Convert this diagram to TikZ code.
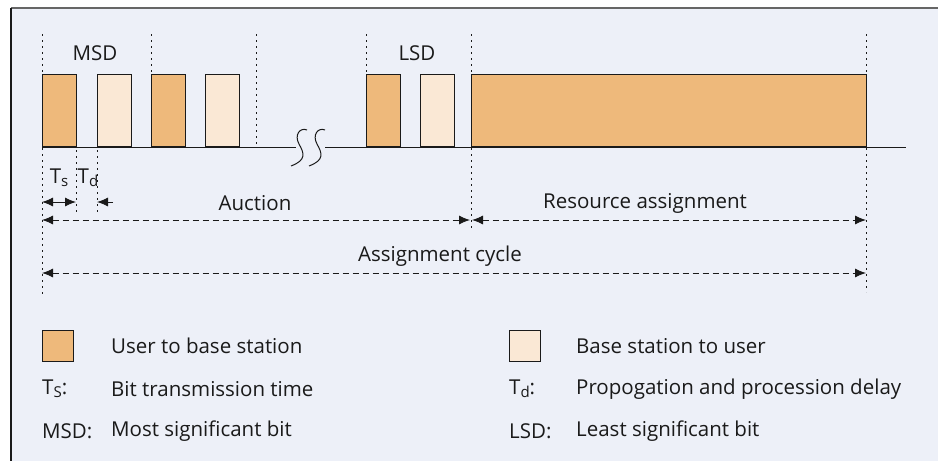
\documentclass[tikz,border=0pt]{standalone}
\usepackage{fontspec}
\setmainfont{Open Sans}
\usetikzlibrary{arrows.meta}
\definecolor{bg}{HTML}{EDF0F8}
\definecolor{dk}{HTML}{EEB97B}
\definecolor{lt}{HTML}{FAE8D5}
\definecolor{ink}{HTML}{1A1A1A}
\newcommand{\sbs}[1]{\raisebox{-0.3ex}{\fontsize{15}{17}\selectfont #1}}
\tikzset{
  ubox/.style={draw=ink, line width=0.9pt, fill=dk, minimum width=34pt, minimum height=72pt, anchor=south west, inner sep=0pt},
  dbox/.style={ubox, fill=lt},
  leg/.style={draw=ink, line width=0.9pt, minimum width=31pt, minimum height=31pt, inner sep=0pt, anchor=north west},
  dotv/.style={draw=ink, line width=1pt, dash pattern=on 2pt off 4pt},
  dimarr/.style={draw=ink, line width=0.9pt, dash pattern=on 6pt off 4pt, {Latex[length=11pt,width=9pt]}-{Latex[length=11pt,width=9pt]}},
  solarr/.style={draw=ink, line width=0.9pt, {Latex[length=11pt,width=9pt]}-{Latex[length=11pt,width=9pt]}},
  txt/.style={text=ink, font=\fontsize{20.5}{24}\selectfont, inner sep=0pt},
  ltxt/.style={txt, anchor=west}
}
\begin{document}
\begin{tikzpicture}[x=1pt,y=-1pt]
\useasboundingbox (0,0) rectangle (938,461);
\fill[white] (0,0) rectangle (938,461);
\fill[bg] (11,8) rectangle (938,461);
\draw[gray!80!black, line width=1.2pt] (11,8) -- (938,8);
\draw[ink, line width=1.2pt] (11,8) -- (11,461);

% boxes
\node[ubox] (b1) at (42,147) {};
\node[dbox] (b2) at (97,147) {};
\node[ubox] (b3) at (151,147) {};
\node[dbox] (b4) at (205,147) {};
\node[ubox] (b5) at (366,147) {};
\node[dbox] (b6) at (420,147) {};
\node[ubox, minimum width=395pt] (b7) at (471,147) {};

% baseline with break
\coordinate (l0) at (42,147);
\coordinate (l1) at (296,147);
\coordinate (l2) at (325,147);
\coordinate (l3) at (906,147);
\draw[ink, line width=0.9pt] (l0) -- (l1);
\draw[ink, line width=0.9pt] (l2) -- (l3);
\draw[ink, line width=1pt] (307,130) .. controls (300,127) and (294,135) .. (299,144) .. controls (304,153) and (307,160) .. (291,166);
\draw[ink, line width=1pt] (325,130) .. controls (318,127) and (312,135) .. (317,144) .. controls (322,153) and (325,160) .. (309,166);

% dotted verticals
\coordinate (v1a) at (42,34);   \coordinate (v1b) at (42,297);
\coordinate (v2a) at (151,34);  \coordinate (v2b) at (151,75);
\coordinate (v3a) at (256,34);  \coordinate (v3b) at (256,147);
\coordinate (v4a) at (366,34);  \coordinate (v4b) at (366,75);
\coordinate (v5a) at (471,34);  \coordinate (v5b) at (471,228);
\coordinate (v6a) at (866,34);  \coordinate (v6b) at (866,292);
\coordinate (v7a) at (76,150);  \coordinate (v7b) at (76,215);
\coordinate (v8a) at (97,150);  \coordinate (v8b) at (97,215);
\foreach \i in {1,...,8} { \draw[dotv] (v\i a) -- (v\i b); }

% labels top
\node[txt] (msd) at (95,53) {MSD};
\node[txt] (lsd) at (417,53) {LSD};

% Ts / Td
\node[txt] (ts) at (59,178) {T\sbs{s}};
\node[txt] (td) at (88,178) {T\sbs{d}};
\coordinate (ts1) at (42,202); \coordinate (ts2) at (76,202);
\draw[solarr] (ts1) -- (ts2);
\coordinate (td1) at (113,202); \coordinate (td2) at (97,202);
\draw[ink, line width=0.9pt, -{Latex[length=11pt,width=9pt]}] (td1) -- (td2);

% dimension arrows
\coordinate (a1) at (42,220); \coordinate (a2) at (470,220);
\coordinate (r1) at (472,220); \coordinate (r2) at (866,220);
\coordinate (c1) at (42,273); \coordinate (c2) at (866,273);
\draw[dimarr] (a1) -- (a2);
\draw[dimarr] (r1) -- (r2);
\draw[dimarr] (c1) -- (c2);
\node[txt] (auc) at (255,203) {Auction};
\node[txt] (res) at (645,203) {Resource assignment};
\node[txt] (cyc) at (440,256) {Assignment cycle};

% legend
\node[leg, fill=dk] (lg1) at (42,330) {};
\node[leg, fill=lt] (lg2) at (509,330) {};
\node[ltxt] (t1) at (111,346) {User to base station};
\node[ltxt] (t2) at (576,346) {Base station to user};
\node[ltxt] (k3) at (42,389) {T\sbs{S}:};
\node[ltxt] (t3) at (111,389) {Bit transmission time};
\node[ltxt] (k4) at (509,389) {T\sbs{d}:};
\node[ltxt] (t4) at (576,389) {Propogation and procession delay};
\node[ltxt] (k5) at (42,431) {MSD:};
\node[ltxt] (t5) at (111,431) {Most significant bit};
\node[ltxt] (k6) at (509,431) {LSD:};
\node[ltxt] (t6) at (576,431) {Least significant bit};
\end{tikzpicture}
\end{document}
